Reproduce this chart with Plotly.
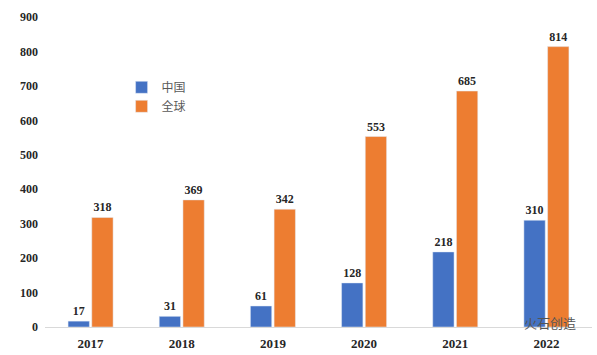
import plotly.graph_objects as go

years = ["2017", "2018", "2019", "2020", "2021", "2022"]
china = [17, 31, 61, 128, 218, 310]
world = [318, 369, 342, 553, 685, 814]
y_ticks = [0, 100, 200, 300, 400, 500, 600, 700, 800, 900]

serif = "Liberation Serif, Times New Roman, serif"

fig = go.Figure()
fig.add_trace(go.Bar(
    x=years, y=china, name="中国", marker_color="#4472C4",
    text=china, textposition="outside", cliponaxis=False,
    textfont=dict(family=serif, size=12, color="#262626"),
))
fig.add_trace(go.Bar(
    x=years, y=world, name="全球", marker_color="#ED7D31",
    text=world, textposition="outside", cliponaxis=False,
    textfont=dict(family=serif, size=12, color="#262626"),
))

fig.update_layout(
    width=597, height=355,
    margin=dict(l=45, r=5, t=17, b=28),
    paper_bgcolor="white", plot_bgcolor="white",
    barmode="group", bargap=0.48, bargroupgap=0.1,
    showlegend=True,
    legend=dict(x=0.14, y=0.82, xanchor="left", yanchor="top",
                font=dict(family="Noto Sans CJK SC, sans-serif", size=12, color="#595959"),
                bgcolor="rgba(0,0,0,0)", itemwidth=30, tracegroupgap=0),
    xaxis=dict(showgrid=False, showline=True, linecolor="#d9d9d9", linewidth=1,
               ticks="", ticklabelstandoff=4,
               tickfont=dict(family=serif, size=13, color="#262626", weight="bold")),
    yaxis=dict(range=[0, 900], tickvals=y_ticks, showgrid=False, zeroline=False,
               showline=False, ticks="", ticklabelstandoff=6,
               tickfont=dict(family=serif, size=12, color="#262626", weight="bold")),
)
fig.update_traces(textfont_weight="bold")

fig.add_annotation(text="火石创造", xref="paper", yref="paper", x=0.974, y=0.016,
                   xanchor="right", yanchor="middle", showarrow=False,
                   font=dict(family="Noto Sans CJK SC, sans-serif", size=13, color="#555555"))

fig.write_html("out.html")
